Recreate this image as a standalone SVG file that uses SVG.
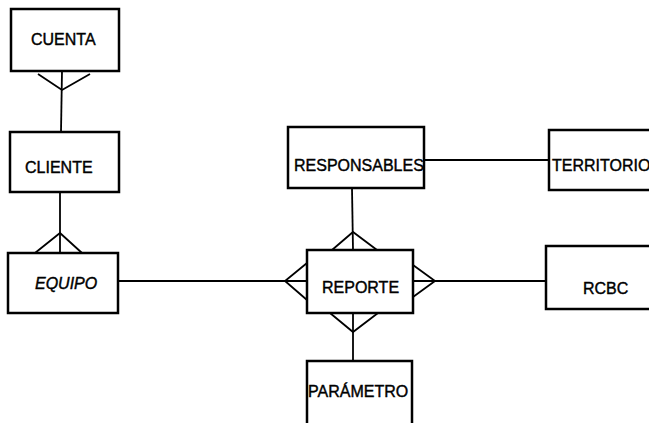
<svg xmlns="http://www.w3.org/2000/svg" width="649" height="423" viewBox="0 0 649 423">
<style>
.box{fill:#fff;stroke:#000;stroke-width:2.5}
.t{font-family:"Liberation Sans",Arial,sans-serif;font-size:16px;fill:#000;stroke:#000;stroke-width:0.4}
.c{fill:none;stroke:#000;stroke-width:1.8;stroke-linejoin:miter}
</style>
<rect width="649" height="423" fill="#fff"/>
<g id="connectors">
<line class="c" x1="62" y1="71" x2="61" y2="132"/>
<polyline class="c" points="38,74 62,90 90,74"/>
<line class="c" x1="60" y1="192" x2="60" y2="253"/>
<polyline class="c" points="35,253 60,233 82,253"/>
<line class="c" x1="118" y1="281" x2="307" y2="281"/>
<polyline class="c" points="307,263 285,281 307,300"/>
<line class="c" x1="352" y1="188" x2="353" y2="250"/>
<polyline class="c" points="332,250 353,232 377,250"/>
<line class="c" x1="413" y1="281" x2="546" y2="281"/>
<polyline class="c" points="413,265 435,281 413,297"/>
<line class="c" x1="353" y1="313" x2="353" y2="361"/>
<polyline class="c" points="330,313 353,332 378,313"/>
<line class="c" x1="424" y1="160" x2="549" y2="160"/>
</g>
<g id="cuenta"><rect class="box" x="11" y="9" width="108" height="62"/><text class="t" x="31" y="45">CUENTA</text></g>
<g id="cliente"><rect class="box" x="10" y="132" width="109" height="60"/><text class="t" x="25" y="173">CLIENTE</text></g>
<g id="equipo"><rect class="box" x="8" y="253" width="110" height="60"/><text class="t" x="35" y="289" font-style="italic">EQUIPO</text></g>
<g id="reporte"><rect class="box" x="307" y="250" width="106" height="63"/><text class="t" x="322" y="293">REPORTE</text></g>
<g id="responsables"><rect class="box" x="288" y="127" width="136" height="61"/><text class="t" x="294" y="171">RESPONSABLES</text></g>
<g id="territorio"><rect class="box" x="549" y="130" width="120" height="60"/><text class="t" x="552" y="171">TERRITORIO</text></g>
<g id="rcbc"><rect class="box" x="546" y="246" width="120" height="63"/><text class="t" x="583" y="294">RCBC</text></g>
<g id="parametro"><rect class="box" x="307" y="361" width="105" height="80"/><text class="t" x="308" y="397">PARÁMETRO</text></g>
</svg>
